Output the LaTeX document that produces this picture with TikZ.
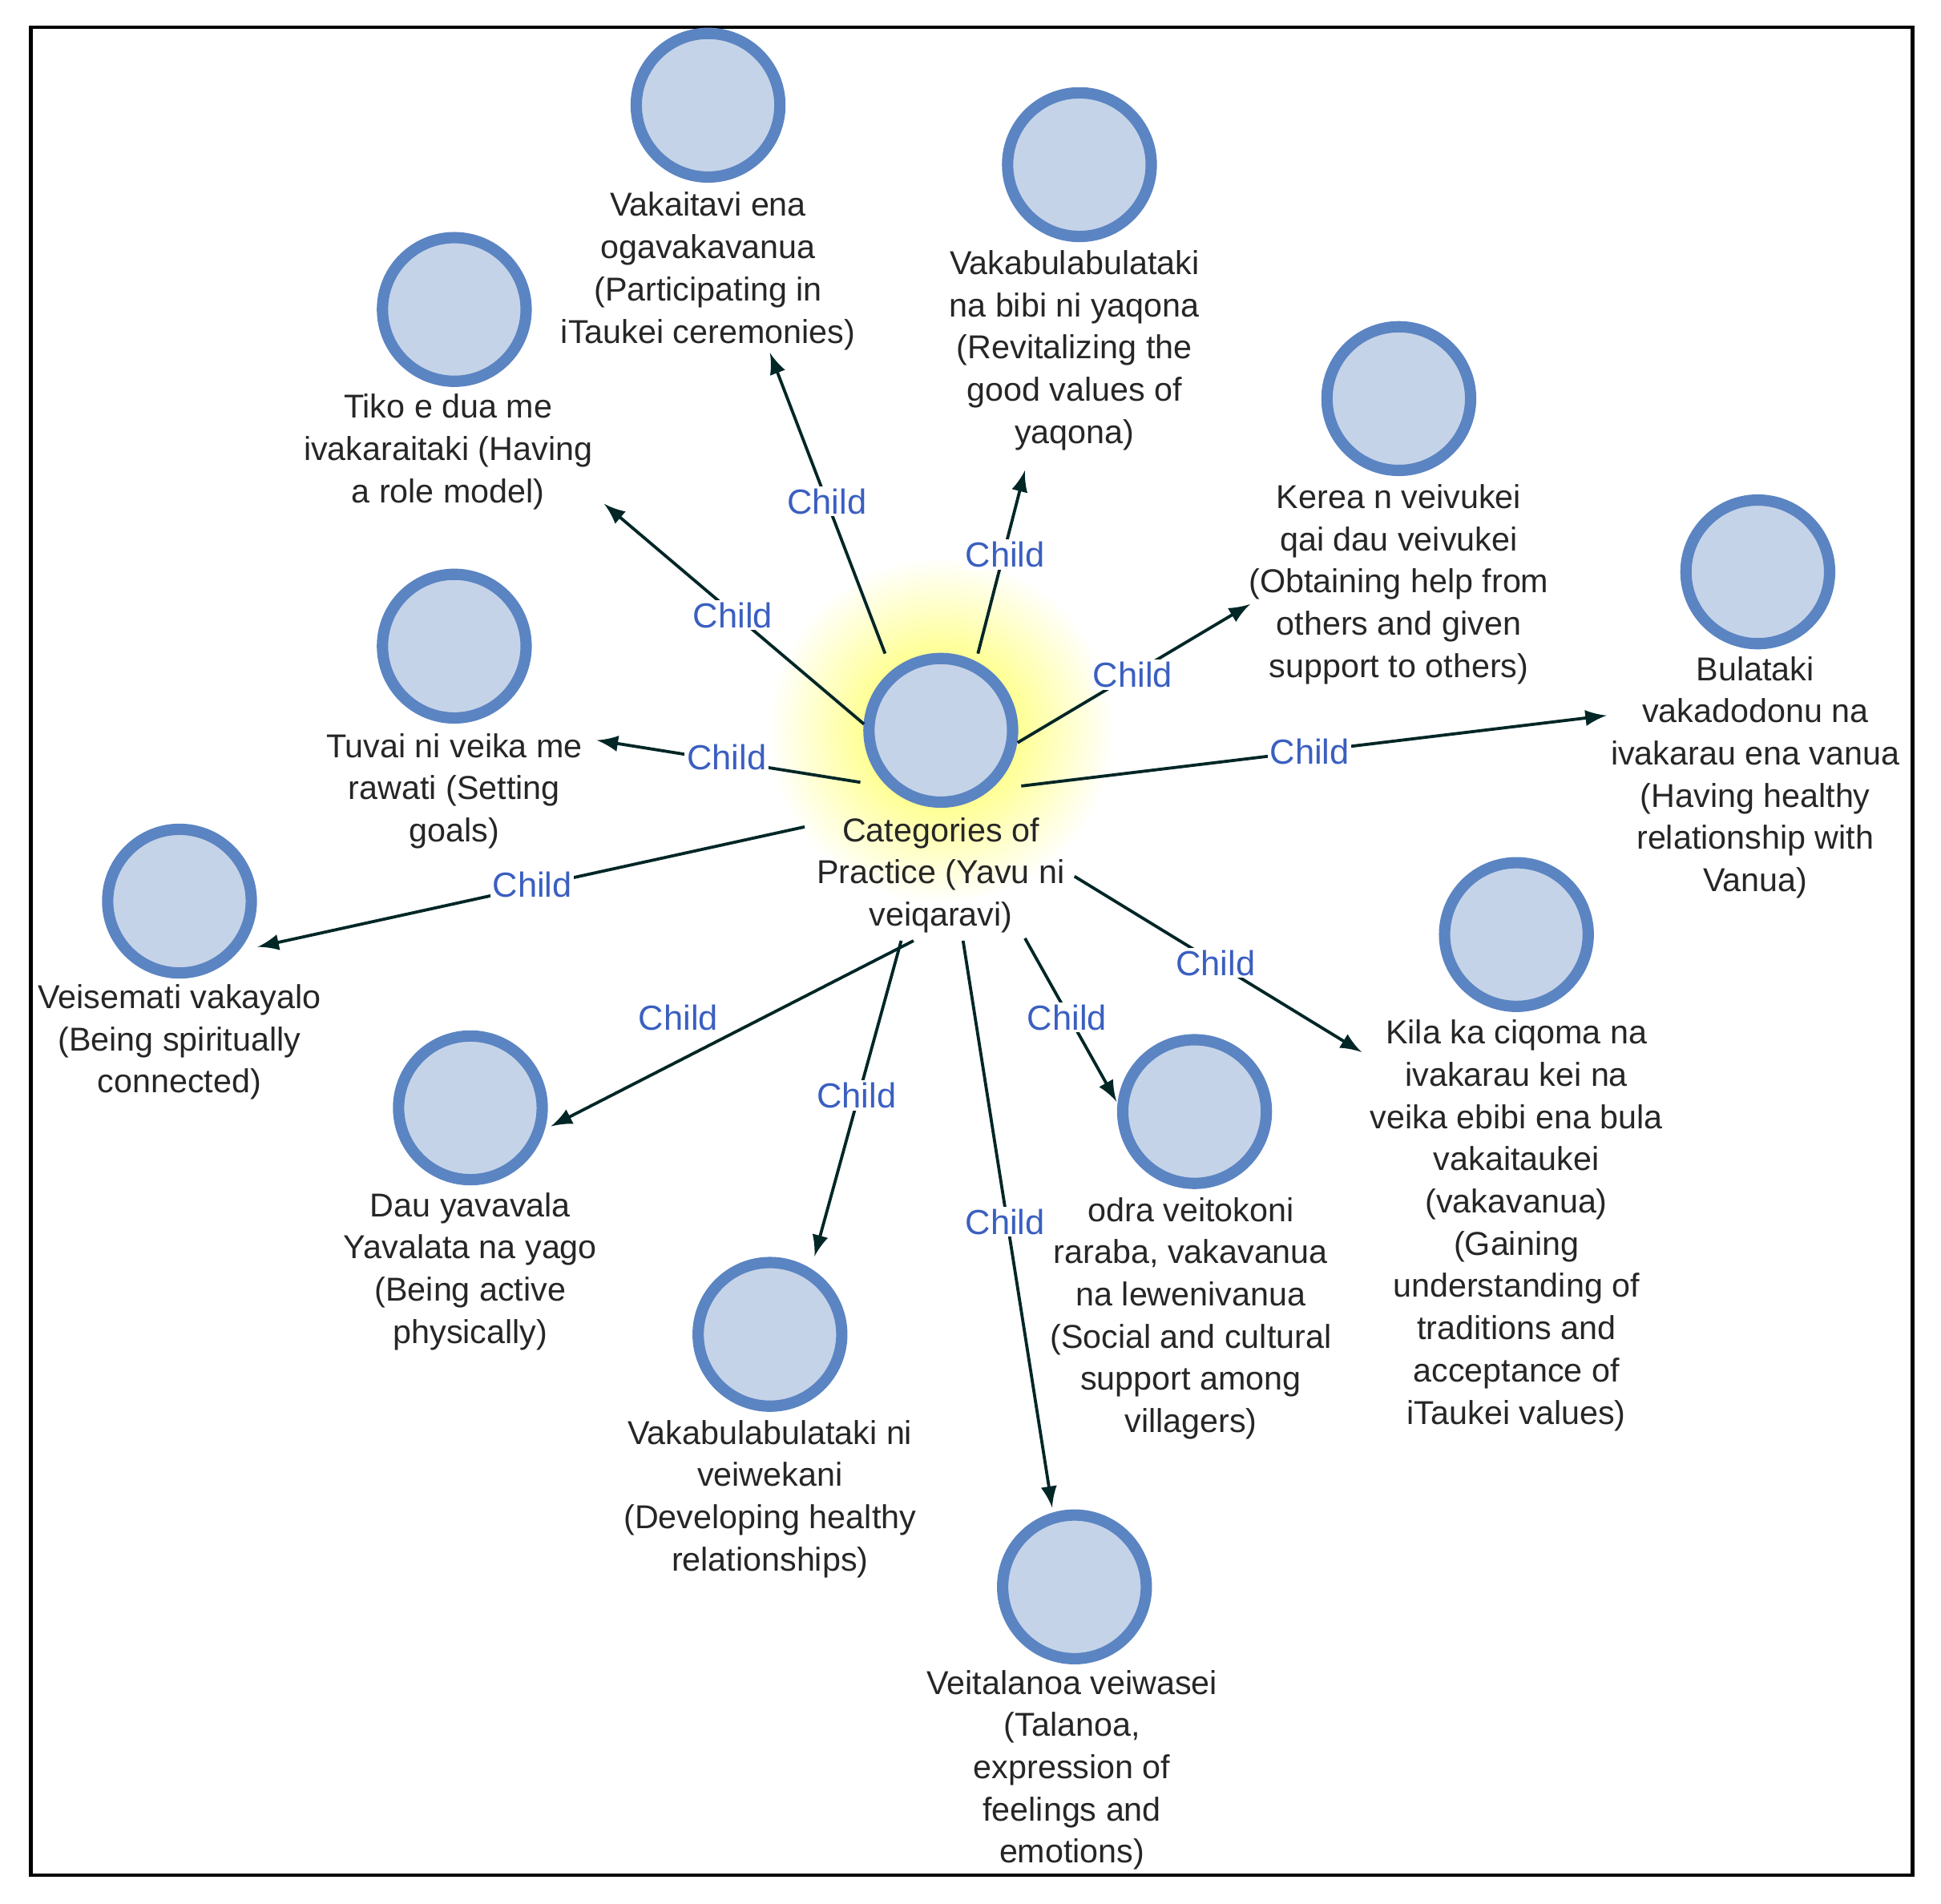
\documentclass[tikz,border=0pt]{standalone}
\usepackage{fontspec}
\setmainfont{Liberation Sans}
\begin{document}
\begin{tikzpicture}[x=0.01cm,y=-0.01cm,
  circ/.style={circle,minimum size=1.16cm,inner sep=0pt,fill=cfill,draw=cedge,line width=2.6pt},
  lab/.style={align=center,font=\fontsize{7.6}{9.7}\selectfont,text=black!85,inner sep=0pt},
  arr/.style={draw=black!70!teal,line width=0.7pt,-{latex}},
  ch/.style={font=\fontsize{8}{9}\selectfont,text=clab,fill=white,inner sep=0.5pt}]
\definecolor{cfill}{HTML}{C5D3E8}
\definecolor{cedge}{HTML}{5B84C2}
\definecolor{clab}{HTML}{3A5FC0}
\useasboundingbox (0,0) rectangle (1568,1538);
\draw[line width=0.8pt] (25,22) rectangle (1545,1515);
\shade[inner color=yellow!75,outer color=white] (760,590) circle (140);
\node[circ] (c0) at (760,590) {};
\node[lab] (t0) at (760,707) {Categories of\\Practice (Yavu ni\\veiqaravi)};
\node[circ] (c1) at (572,85) {};
\node[lab] (t1) at (572,219) {Vakaitavi ena\\ogavakavanua\\(Participating in\\iTaukei ceremonies)};
\node[circ] (c2) at (872,133) {};
\node[lab] (t2) at (868,283) {Vakabulabulataki\\na bibi ni yaqona\\(Revitalizing the\\good values of\\yaqona)};
\node[circ] (c3) at (367,250) {};
\node[lab] (t3) at (362,365) {Tiko e dua me\\ivakaraitaki (Having\\a role model)};
\node[circ] (c4) at (1130,322) {};
\node[lab] (t4) at (1130,472) {Kerea n veivukei\\qai dau veivukei\\(Obtaining help from\\others and given\\support to others)};
\node[circ] (c5) at (1420,462) {};
\node[lab] (t5) at (1418,628) {Bulataki\\vakadodonu na\\ivakarau ena vanua\\(Having healthy\\relationship with\\Vanua)};
\node[circ] (c6) at (367,522) {};
\node[lab] (t6) at (367,639) {Tuvai ni veika me\\rawati (Setting\\goals)};
\node[circ] (c7) at (145,728) {};
\node[lab] (t7) at (145,842) {Veisemati vakayalo\\(Being spiritually\\connected)};
\node[circ] (c8) at (380,895) {};
\node[lab] (t8) at (380,1027) {Dau yavavala\\Yavalata na yago\\(Being active\\physically)};
\node[circ] (c9) at (622,1078) {};
\node[lab] (t9) at (622,1211) {Vakabulabulataki ni\\veiwekani\\(Developing healthy\\relationships)};
\node[circ] (c10) at (965,898) {};
\node[lab] (t10) at (962,1065) {odra veitokoni\\raraba, vakavanua\\na lewenivanua\\(Social and cultural\\support among\\villagers)};
\node[circ] (c11) at (1225,755) {};
\node[lab] (t11) at (1225,990) {Kila ka ciqoma na\\ivakarau kei na\\veika ebibi ena bula\\vakaitaukei\\(vakavanua)\\(Gaining\\understanding of\\traditions and\\acceptance of\\iTaukei values)};
\node[circ] (c12) at (868,1282) {};
\node[lab] (t12) at (866,1430) {Veitalanoa veiwasei\\(Talanoa,\\expression of\\feelings and\\emotions)};
% arrow endpoints
\coordinate (s1) at (715,528); \coordinate (e1) at (622,285);
\coordinate (s2) at (790,528); \coordinate (e2) at (828,380);
\coordinate (s3) at (698,585); \coordinate (e3) at (488,407);
\coordinate (s4) at (822,600); \coordinate (e4) at (1010,488);
\coordinate (s5) at (825,635); \coordinate (e5) at (1298,578);
\coordinate (s6) at (695,632); \coordinate (e6) at (482,598);
\coordinate (s7) at (650,668); \coordinate (e7) at (208,765);
\coordinate (s8) at (868,708); \coordinate (e8) at (1100,850);
\coordinate (s9) at (828,758); \coordinate (e9) at (902,890);
\coordinate (s10) at (738,760); \coordinate (e10) at (445,910);
\coordinate (s11) at (728,760); \coordinate (e11) at (658,1015);
\coordinate (s12) at (778,760); \coordinate (e12) at (850,1218);
\foreach \i in {1,...,12} \draw[arr] (s\i) -- (e\i);
\node[ch] (l1) at (668,405) {Child};
\node[ch] (l2) at (812,448) {Child};
\node[ch] (l3) at (592,497) {Child};
\node[ch] (l4) at (915,545) {Child};
\node[ch] (l5) at (1058,607) {Child};
\node[ch] (l6) at (587,612) {Child};
\node[ch] (l7) at (430,715) {Child};
\node[ch] (l8) at (982,778) {Child};
\node[ch] (l9) at (862,822) {Child};
\node[ch] (l10) at (548,822) {Child};
\node[ch] (l11) at (692,885) {Child};
\node[ch] (l12) at (812,987) {Child};
\end{tikzpicture}
\end{document}
